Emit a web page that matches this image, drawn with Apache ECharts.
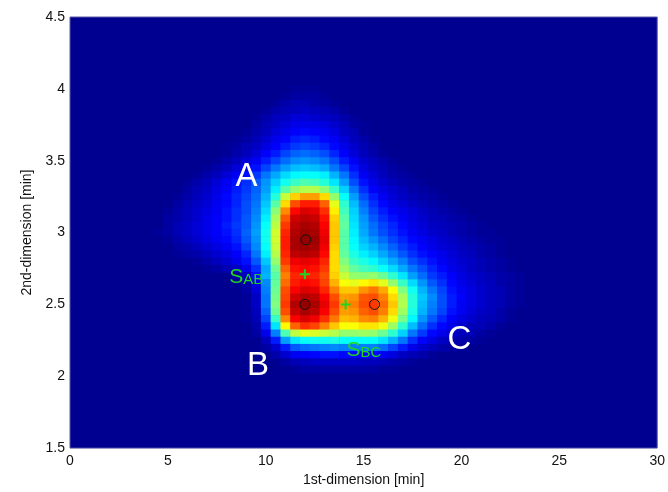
<!DOCTYPE html>
<html style="height: 100%">
<head>
<meta charset="utf-8">
<title>2D peak map</title>
<script src="https://cdn.jsdelivr.net/npm/echarts@6.0.0/dist/echarts.min.js"></script>
</head>
<body style="height: 100%; margin: 0; background: #fff">
<div id="target" style="width: 668px; height: 492px"></div>
<script>
// centres of the read-off cells, in minutes
const xCells = [4.5, 5, 5.5, 6, 6.5, 7, 7.5, 8, 8.5, 9, 9.5, 10, 10.5, 11, 11.5, 12, 12.5, 13, 13.5, 14,
                14.5, 15, 15.5, 16, 16.5, 17, 17.5, 18, 18.5, 19, 19.5, 20, 20.5, 21, 21.5, 22, 22.5, 23, 23.5];
const yCells = [4.0, 3.95, 3.9, 3.85, 3.8, 3.75, 3.7, 3.65, 3.6, 3.55, 3.5, 3.45, 3.4, 3.35, 3.3, 3.25,
                3.2, 3.15, 3.1, 3.05, 3.0, 2.95, 2.9, 2.85, 2.8, 2.75, 2.7, 2.65, 2.6, 2.55, 2.5, 2.45,
                2.4, 2.35, 2.3, 2.25, 2.2, 2.15, 2.1, 2.05];

// intensity in % of max, one row per yCells entry
const density = [
  [0,0,0,0,0,0,0,0,0,0, 0,0,0,0,1,1,1,0,0,0, 0,0,0,0,0,0,0,0,0,0, 0,0,0,0,0,0,0,0,0],
  [0,0,0,0,0,0,0,0,0,0, 0,0,0,1,2,2,2,1,0,0, 0,0,0,0,0,0,0,0,0,0, 0,0,0,0,0,0,0,0,0],
  [0,0,0,0,0,0,0,0,0,0, 0,0,1,3,4,4,3,2,1,0, 0,0,0,0,0,0,0,0,0,0, 0,0,0,0,0,0,0,0,0],
  [0,0,0,0,0,0,0,0,0,0, 0,1,3,4,5,6,5,4,3,1, 0,0,0,0,0,0,0,0,0,0, 0,0,0,0,0,0,0,0,0],
  [0,0,0,0,0,0,0,0,0,0, 1,3,5,6,8,8,7,6,5,3, 1,0,0,0,0,0,0,0,0,0, 0,0,0,0,0,0,0,0,0],
  [0,0,0,0,0,0,0,0,0,0, 2,4,6,8,10,10,10,9,7,5, 2,1,0,0,0,0,0,0,0,0, 0,0,0,0,0,0,0,0,0],
  [0,0,0,0,0,0,0,0,0,1, 3,5,8,10,12,13,12,11,9,6, 4,1,0,0,0,0,0,0,0,0, 0,0,0,0,0,0,0,0,0],
  [0,0,0,0,0,0,0,0,1,2, 4,7,10,12,15,16,15,13,11,8, 5,3,1,0,0,0,0,0,0,0, 0,0,0,0,0,0,0,0,0],
  [0,0,0,0,0,0,0,1,2,4, 6,9,12,15,18,19,18,16,13,10, 7,4,2,0,0,0,0,0,0,0, 0,0,0,0,0,0,0,0,0],
  [0,0,0,0,0,0,0,1,3,5, 8,12,15,19,22,23,22,20,16,12, 8,5,3,1,0,0,0,0,0,0, 0,0,0,0,0,0,0,0,0],
  [0,0,0,0,0,0,1,3,5,8, 11,15,19,23,26,27,26,24,20,15, 11,7,5,3,1,0,0,0,0,0, 0,0,0,0,0,0,0,0,0],
  [0,0,0,0,0,1,3,5,8,11, 14,19,24,28,31,32,31,29,24,19, 14,9,6,4,2,1,0,0,0,0, 0,0,0,0,0,0,0,0,0],
  [0,0,0,0,1,3,5,8,11,14, 18,24,29,34,37,38,38,36,30,24, 17,11,8,5,3,2,1,0,0,0, 0,0,0,0,0,0,0,0,0],
  [0,0,0,1,3,5,8,11,14,17, 21,27,33,39,43,45,44,41,35,28, 20,14,10,7,5,3,2,1,0,0, 0,0,0,0,0,0,0,0,0],
  [0,0,0,2,4,6,9,12,15,18, 22,28,36,46,52,55,55,51,43,33, 24,17,12,9,7,5,3,2,1,0, 0,0,0,0,0,0,0,0,0],
  [0,0,1,3,5,7,10,13,16,19, 23,30,41,57,67,72,72,66,52,38, 28,20,15,11,8,6,4,3,2,1, 0,0,0,0,0,0,0,0,0],
  [0,0,2,4,6,8,11,13,16,20, 24,32,46,66,80,85,85,78,60,42, 31,23,17,13,10,8,6,4,3,2, 1,0,0,0,0,0,0,0,0],
  [0,1,3,5,7,9,11,14,17,20, 25,34,51,74,87,91,90,83,64,44, 33,25,19,15,12,10,8,6,4,3, 2,1,0,0,0,0,0,0,0],
  [0,2,3,5,7,10,12,14,17,21, 26,36,54,79,92,94,93,86,67,46, 34,27,21,17,14,11,9,7,5,4, 3,2,1,0,0,0,0,0,0],
  [0,2,4,6,8,10,12,15,18,21, 27,38,56,82,94,96,95,88,68,47, 35,28,23,19,16,13,10,8,6,5, 4,3,2,1,0,0,0,0,0],
  [1,2,4,6,8,10,12,14,17,22, 28,39,58,84,95,97,96,89,68,46, 36,29,24,20,17,14,11,9,7,6, 4,3,2,1,1,0,0,0,0],
  [0,1,3,5,7,9,11,13,16,21, 27,39,58,85,96,98,97,90,68,46, 37,31,27,23,19,16,13,11,9,7, 6,4,3,2,1,1,0,0,0],
  [0,0,2,3,5,7,9,11,14,19, 26,38,57,85,96,97,96,89,67,46, 38,33,30,26,22,18,15,12,10,8, 7,5,4,3,2,1,0,0,0],
  [0,0,1,2,3,5,7,9,12,16, 24,36,55,84,94,95,94,87,66,47, 40,36,33,29,25,21,17,14,12,10, 8,6,5,3,2,1,0,0,0],
  [0,0,0,0,1,3,5,7,10,14, 21,32,52,82,89,90,89,84,66,50, 43,40,37,33,29,25,20,17,14,11, 9,7,6,4,3,2,1,0,0],
  [0,0,0,0,0,1,2,4,6,10, 17,29,48,78,86,87,86,82,66,53, 47,44,42,38,34,29,24,20,16,13, 10,8,6,4,3,2,1,0,0],
  [0,0,0,0,0,0,0,0,2,5, 14,30,46,75,84,85,84,80,67,57, 52,51,52,48,42,35,28,23,18,15, 12,9,7,6,4,3,2,1,0],
  [0,0,0,0,0,0,0,0,1,3, 9,26,47,77,85,87,86,81,70,62, 60,63,65,60,52,43,34,27,21,17, 13,10,8,6,5,3,2,1,0],
  [0,0,0,0,0,0,0,0,0,2, 8,25,48,80,88,91,90,84,75,68, 68,73,76,71,62,50,39,30,24,19, 14,11,9,7,5,4,2,1,0],
  [0,0,0,0,0,0,0,0,0,1, 6,24,49,81,92,95,94,88,80,72, 73,79,80,75,66,54,41,32,26,20, 15,12,9,7,5,4,2,1,0],
  [0,0,0,0,0,0,0,0,0,1, 6,24,50,82,95,98,96,90,82,73, 75,80,82,77,68,55,41,31,25,20, 15,11,9,7,5,4,2,1,0],
  [0,0,0,0,0,0,0,0,0,1, 5,22,48,80,93,96,94,88,80,72, 73,78,80,75,66,53,40,30,24,19, 14,11,8,6,5,3,1,0,0],
  [0,0,0,0,0,0,0,0,0,1, 4,19,43,74,88,91,89,83,76,69, 70,74,75,70,61,49,37,27,21,16, 12,9,7,5,4,3,1,0,0],
  [0,0,0,0,0,0,0,0,0,0, 3,15,35,63,78,83,81,75,68,62, 62,65,65,61,53,42,31,23,17,13, 10,7,5,4,3,1,0,0,0],
  [0,0,0,0,0,0,0,0,0,0, 2,10,25,45,56,60,59,57,55,52, 52,53,52,48,42,33,24,18,13,10, 7,5,4,2,1,0,0,0,0],
  [0,0,0,0,0,0,0,0,0,0, 0,5,15,28,35,38,39,39,40,38, 38,38,38,35,30,24,17,12,9,6, 4,3,2,1,0,0,0,0,0],
  [0,0,0,0,0,0,0,0,0,0, 0,2,7,15,21,23,24,25,26,25, 25,25,25,23,19,15,10,7,5,3, 2,1,0,0,0,0,0,0,0],
  [0,0,0,0,0,0,0,0,0,0, 0,0,3,7,11,12,13,14,14,13, 13,13,13,11,9,6,4,3,1,0, 0,0,0,0,0,0,0,0,0],
  [0,0,0,0,0,0,0,0,0,0, 0,0,0,2,4,5,6,6,6,6, 6,5,5,4,3,2,1,0,0,0, 0,0,0,0,0,0,0,0,0],
  [0,0,0,0,0,0,0,0,0,0, 0,0,0,0,1,2,2,2,2,2, 2,2,2,1,1,0,0,0,0,0, 0,0,0,0,0,0,0,0,0]
];

// peak maxima (circles) and saddle points (plus signs)
const peaks = [[12.05, 2.95], [12.0, 2.5], [15.56, 2.5]];
const saddles = [[12.0, 2.71], [14.08, 2.5]];
// annotation text
const peakNames = [['A', 9.02, 3.42], ['B', 9.61, 2.11], ['C', 19.9, 2.29]];
const saddleNames = [['AB', 9.0, 2.72], ['BC', 15.02, 2.21]];

const cellW = 0.5;
const cellH = 0.05;

let cells = [];
for (let r = 0; r < yCells.length; r++)
{
    for (let c = 0; c < xCells.length; c++)
    {
        // zero cells are left to the background
        if (density[r][c] > 0)
        {
            cells.push([xCells[c], yCells[r], density[r][c]]);
        }
    }
}

const jet = ['#000090', '#0000ff', '#0080ff', '#00ffff', '#80ff80', '#ffff00', '#ff8000', '#ff0000', '#800000'];
const green = '#22d422';
const font = 'Liberation Sans, Arial, sans-serif';

let chart = echarts.init(document.getElementById('target'));

let option = {
    animation: false,
    textStyle: { fontFamily: font },
    grid: {
        left: 70,
        right: 8,
        top: 17,
        bottom: 39,
        show: true,
        backgroundColor: jet[0],
        borderColor: '#5a5aa8',
        borderWidth: 1,
    },
    visualMap: {
        show: false,
        type: 'continuous',
        seriesIndex: 0,
        dimension: 2,
        min: 0,
        max: 100,
        inRange: { color: jet },
    },
    xAxis: {
        type: 'value',
        min: 0,
        max: 30,
        interval: 5,
        name: '1st-dimension [min]',
        nameLocation: 'middle',
        nameGap: 21,
        nameTextStyle: { fontSize: 14, color: '#111' },
        axisLine: { show: false },
        axisTick: { show: false },
        splitLine: { show: false },
        axisLabel: { fontSize: 14, color: '#111', margin: 6 },
    },
    yAxis: {
        type: 'value',
        min: 1.5,
        max: 4.5,
        interval: 0.5,
        name: '2nd-dimension [min]',
        nameLocation: 'middle',
        nameGap: 34,
        nameTextStyle: { fontSize: 14, color: '#111' },
        axisLine: { show: false },
        axisTick: { show: false },
        splitLine: { show: false },
        axisLabel: { fontSize: 14, color: '#111', margin: 5 },
    },
    series: [
        {
            type: 'custom',
            silent: true,
            data: cells,
            encode: { x: 0, y: 1 },
            renderItem: (params, api) => {
                const x = api.value(0);
                const y = api.value(1);
                const p0 = api.coord([x - cellW / 2, y + cellH / 2]);
                const p1 = api.coord([x + cellW / 2, y - cellH / 2]);
                return {
                    type: 'rect',
                    shape: { x: p0[0], y: p0[1], width: p1[0] - p0[0] + 0.6, height: p1[1] - p0[1] + 0.6 },
                    style: { fill: api.visual('color') },
                };
            },
        },
        {
            type: 'scatter',
            silent: true,
            data: peaks,
            symbol: 'circle',
            symbolSize: 10,
            itemStyle: { color: 'rgba(0,0,0,0)', borderColor: '#111', borderWidth: 1, opacity: 1 },
        },
        {
            type: 'scatter',
            silent: true,
            data: saddles,
            symbol: 'path://M4,0 L6,0 L6,4 L10,4 L10,6 L6,6 L6,10 L4,10 L4,6 L0,6 L0,4 L4,4 Z',
            symbolSize: 10,
            itemStyle: { color: green, opacity: 1 },
        },
        {
            type: 'scatter',
            silent: true,
            data: peakNames.map(d => [d[1], d[2], d[0]]),
            symbolSize: 1,
            itemStyle: { color: 'rgba(0,0,0,0)', opacity: 1 },
            label: {
                show: true,
                position: 'inside',
                offset: [0, 5],
                formatter: p => p.value[2],
                color: '#fff',
                opacity: 1,
                fontSize: 33,
                fontFamily: font,
            },
        },
        {
            type: 'scatter',
            silent: true,
            data: saddleNames.map(d => [d[1], d[2], d[0]]),
            symbolSize: 1,
            itemStyle: { color: 'rgba(0,0,0,0)', opacity: 1 },
            label: {
                show: true,
                position: 'inside',
                offset: [0, 4],
                opacity: 1,
                formatter: p => '{s|S}{t|' + p.value[2] + '}',
                rich: {
                    s: { fontSize: 21, color: green, fontFamily: font, verticalAlign: 'bottom', lineHeight: 21 },
                    t: { fontSize: 15, color: green, fontFamily: font, verticalAlign: 'bottom', lineHeight: 21 },
                },
            },
        },
    ],
};

chart.setOption(option);
</script>
</body>
</html>
